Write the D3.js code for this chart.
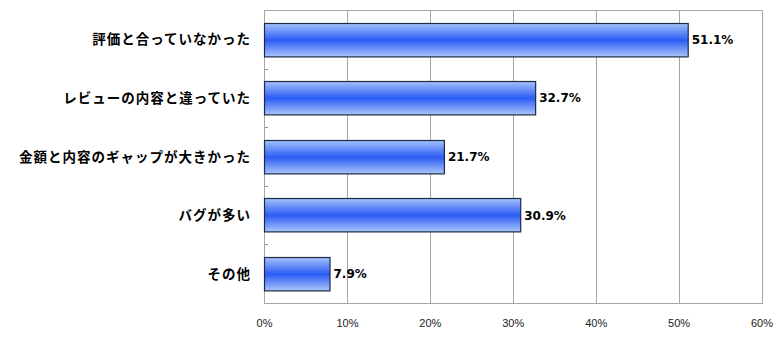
<!DOCTYPE html>
<html>
<head>
<meta charset="utf-8">
<script src="https://cdn.jsdelivr.net/npm/d3@7"></script>
<style>
  body { margin: 0; background: #fff; }
  .cat { font-family: "Noto Sans CJK JP", sans-serif; font-weight: bold; font-size: 13.5px; letter-spacing: 1px; }
  .val { font-family: "DejaVu Sans", sans-serif; font-weight: bold; font-size: 12px; }
  .tick text { font-family: "Liberation Sans", sans-serif; font-size: 11px; fill: #222; }
</style>
</head>
<body>
<div id="chart"></div>
<script>
var categories = ["評価と合っていなかった", "レビューの内容と違っていた", "金額と内容のギャップが大きかった", "バグが多い", "その他"];
var values = [51.1, 32.7, 21.7, 30.9, 7.9];
var tickValues = [0, 10, 20, 30, 40, 50, 60];

var width = 777, height = 351;
var margin = { top: 10, left: 264, right: 15, bottom: 48 };

//remove content before drawing
d3.select("#chart").selectAll("*").remove();

var svg = d3.select("#chart")
  .append("svg")
  .attr("width", width)
  .attr("height", height);

var defs = svg.append("defs");
var grad = defs.append("linearGradient")
  .attr("id", "barGrad")
  .attr("x1", 0).attr("y1", 0).attr("x2", 0).attr("y2", 1);
grad.append("stop").attr("offset", "0%").attr("stop-color", "#a4c2fb");
grad.append("stop").attr("offset", "50%").attr("stop-color", "#2c5cf4");
grad.append("stop").attr("offset", "100%").attr("stop-color", "#aac6fb");

var x = d3.scaleLinear()
  .domain([0, 60])
  .range([margin.left, width - margin.right - 0.5]);

var y = d3.scaleBand()
  .domain(categories)
  .range([margin.top, height - margin.bottom])
  .paddingInner(0.43)
  .paddingOuter(0.215);

var plotTop = margin.top, plotBottom = height - margin.bottom;

//gridlines
svg.append("g")
  .selectAll("line")
  .data(tickValues)
  .enter()
  .append("line")
  .attr("x1", function(d) { return Math.round(x(d)) + 0.5; })
  .attr("x2", function(d) { return Math.round(x(d)) + 0.5; })
  .attr("y1", plotTop)
  .attr("y2", plotBottom)
  .attr("stroke", "#a6a6a6");

//frame
svg.append("rect")
  .attr("x", Math.round(x(0)) + 0.5)
  .attr("y", plotTop + 0.5)
  .attr("width", Math.round(x(60)) - Math.round(x(0)))
  .attr("height", plotBottom - plotTop)
  .attr("fill", "none")
  .attr("stroke", "#a6a6a6");

//small ticks between categories
var step = y.step();
svg.append("g")
  .selectAll("line")
  .data(categories.slice(1))
  .enter()
  .append("line")
  .attr("x1", x(0) + 1)
  .attr("x2", x(0) + 4)
  .attr("y1", function(d) { return Math.round(y(d) - step * y.paddingInner() / 2) + 0.5; })
  .attr("y2", function(d) { return Math.round(y(d) - step * y.paddingInner() / 2) + 0.5; })
  .attr("stroke", "#888");

//bars
svg.append("g")
  .selectAll("rect")
  .data(categories)
  .enter()
  .append("rect")
  .attr("x", Math.round(x(0)) + 0.5)
  .attr("y", function(d) { return Math.round(y(d)) + 0.5; })
  .attr("width", function(d, i) { return x(values[i]) - x(0); })
  .attr("height", y.bandwidth())
  .attr("fill", "url(#barGrad)")
  .attr("stroke", "#1c2a46")
  .attr("stroke-width", 1.2);

//value labels
svg.append("g")
  .selectAll("text")
  .data(categories)
  .enter()
  .append("text")
  .attr("class", "val")
  .attr("x", function(d, i) { return x(values[i]) + 4; })
  .attr("y", function(d) { return y(d) + y.bandwidth() / 2 + 4.5; })
  .text(function(d, i) { return values[i].toFixed(1) + "%"; });

//category labels
svg.append("g")
  .selectAll("text")
  .data(categories)
  .enter()
  .append("text")
  .attr("class", "cat")
  .attr("x", 251)
  .attr("y", function(d) { return y(d) + y.bandwidth() / 2 + 5; })
  .attr("text-anchor", "end")
  .text(function(d) { return d; });

//x axis labels
var xAxis = d3.axisBottom(x)
  .tickValues(tickValues)
  .tickSize(0)
  .tickPadding(16)
  .tickFormat(function(d) { return d + "%"; });
var gx = svg.append("g")
  .attr("transform", "translate(0," + plotBottom + ")")
  .call(xAxis);
gx.select(".domain").remove();
</script>
</body>
</html>
